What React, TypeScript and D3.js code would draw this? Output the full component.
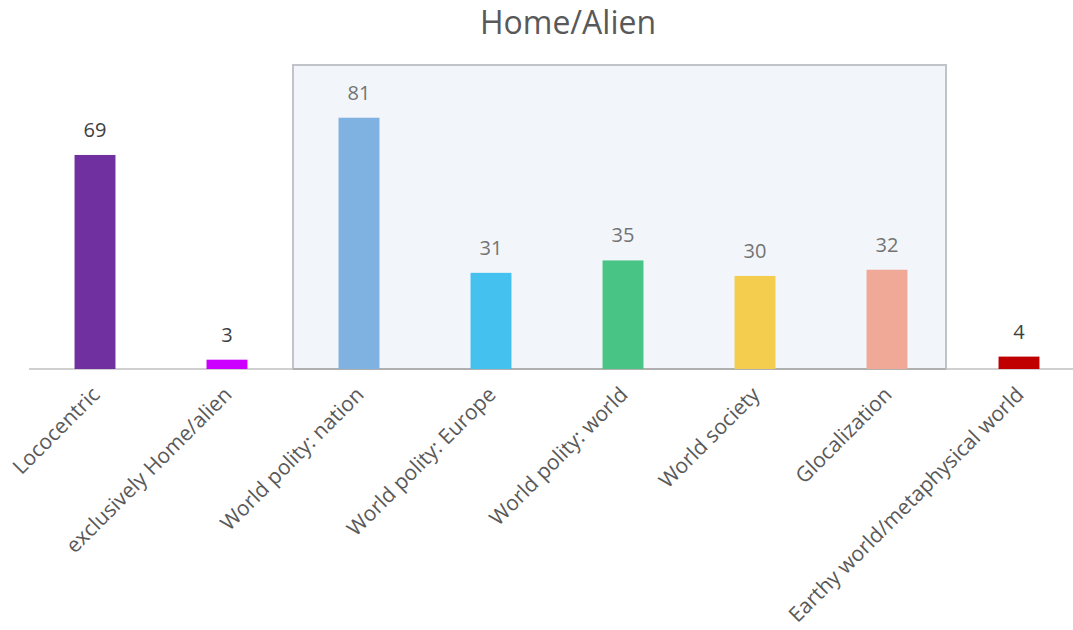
import React from "react";
import * as d3 from "d3";

const categories = [
  "Lococentric",
  "exclusively Home/alien",
  "World polity: nation",
  "World polity: Europe",
  "World polity: world",
  "World society",
  "Glocalization",
  "Earthy world/metaphysical world",
];
const values = [69, 3, 81, 31, 35, 30, 32, 4];
const colors = ["#7030a0", "#cc00ff", "#7fb2e0", "#45c1ef", "#48c585", "#f4cd4f", "#f0a996", "#c00000"];
const inBox = [false, false, true, true, true, true, true, false];
const title = "Home/Alien";

const W = 1073;
const H = 630;
const FONT = "'Open Sans', sans-serif";

export default function App() {
  const x = d3.scaleBand<string>().domain(categories).range([29, 1085]).paddingInner(0.69).paddingOuter(0.345);
  const y = d3.scaleLinear().domain([0, 98]).range([369, 65]);
  const step = x.step();
  const bw = x.bandwidth();
  const c = (cat: string) => (x(cat) as number) + bw / 2;
  const boxLeft = c(categories[2]) - step / 2;
  const boxRight = c(categories[6]) + step * 0.447;

  return (
    <svg width={W} height={H} style={{ position: "absolute", left: 0, top: 0, background: "#fff" }} fontFamily={FONT}>
      <text x={568} y={34} textAnchor="middle" fontSize={32} fill="#595959">{title}</text>
      <line x1={29} x2={W} y1={y(0)} y2={y(0)} stroke="#d0d0d0" strokeWidth={2} />
      <rect x={boxLeft} y={y(98)} width={boxRight - boxLeft} height={y(0) - y(98)} fill="#f2f6fb" stroke="#c0c4c8" strokeWidth={2} />
      <line x1={boxLeft} x2={boxRight} y1={y(0)} y2={y(0)} stroke="#b0b0b0" strokeWidth={2} />
      {categories.map((cat, i) => (
        <g key={cat}>
          <rect x={x(cat)} y={y(values[i])} width={bw} height={y(0) - y(values[i])} fill={colors[i]} />
          <text x={c(cat)} y={y(values[i]) - 18} textAnchor="middle" fontSize={20} fill={inBox[i] ? "#737373" : "#404040"}>
            {values[i]}
          </text>
          <text
            transform={`translate(${c(cat) + 6},${y(0) + 27}) rotate(-45)`}
            textAnchor="end"
            fontSize={21}
            fill="#595959"
          >
            {cat}
          </text>
        </g>
      ))}
    </svg>
  );
}
